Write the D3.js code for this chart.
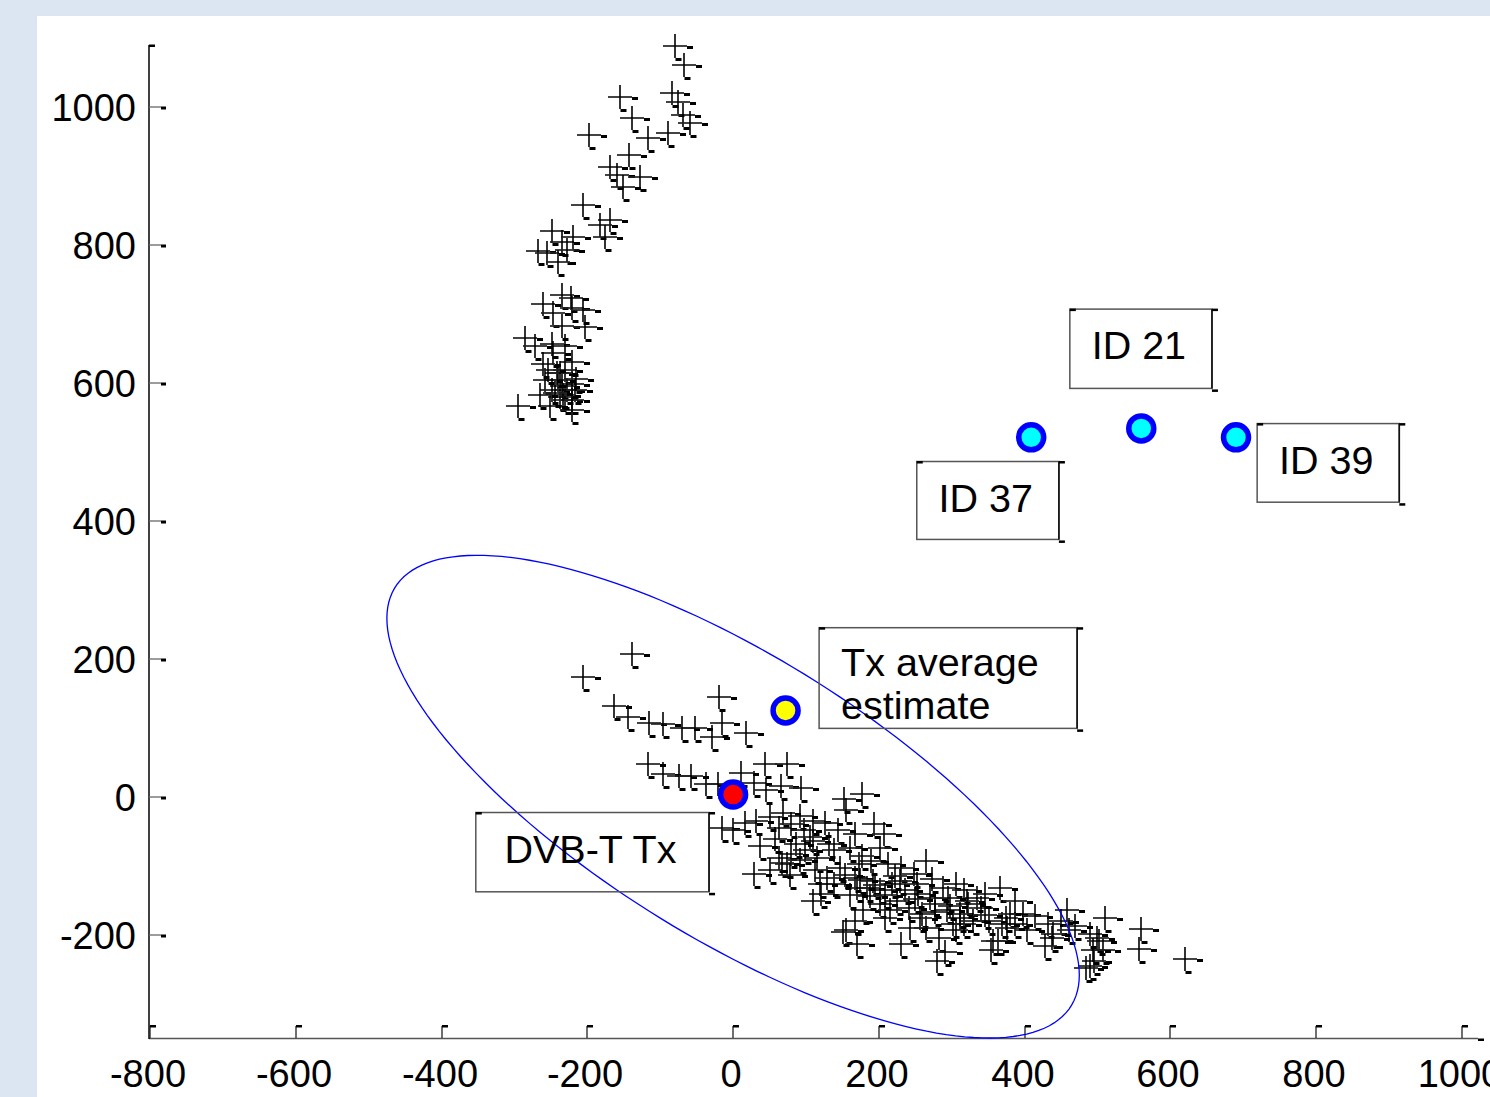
<!DOCTYPE html>
<html><head><meta charset="utf-8">
<script src="https://cdn.jsdelivr.net/npm/d3@7/dist/d3.min.js"></script>
<style>html,body{margin:0;padding:0;background:#dce6f2;overflow:hidden}</style>
</head><body>
<svg id="chart" width="1490" height="1097"></svg>
<script>
// ---------- data ----------
const xTicks = [-800, -600, -400, -200, 0, 200, 400, 600, 800, 1000];
const yTicks = [-200, 0, 200, 400, 600, 800, 1000];
const xDomain = [-800, 1022];
const yDomain = [-350, 1090];

// sensor position estimates, upper group
const upperCluster = [[-80,1088],[-67,1061],[-84,1020],[-75,1007],[-69,988],[-59,977],[-89,963],[-155,1014],[-139,984],[-117,955],
[-198,959],[-143,930],[-169,913],[-159,901],[-128,898],[-151,884],[-206,858],[-169,836],[-182,829],[-176,811],
[-248,820],[-235,804],[-220,811],[-268,791],[-255,789],[-228,792],[-240,775],[-235,727],[-222,723],[-261,715],
[-247,702],[-221,708],[-206,705],[-235,683],[-203,681],[-285,665],[-272,654],[-248,657],[-230,654],[-247,643],
[-221,630],[-261,628],[-241,614],[-230,618],[-240,604],[-258,604],[-235,596],[-221,599],[-248,589],[-228,589],
[-217,589],[-237,579],[-230,575],[-221,575],[-295,567],[-251,567],[-221,560],[-233,582],[-244,586],[-237,615],
[-254,618],[-215,606],[-265,582]];

// sensor position estimates, lower group
const lowerCluster = [[-139,207],[-206,174],[-163,132],[-144,116],[-115,107],[-96,106],[-70,100],[-52,99],[-29,86],[-15,107],
[-19,144],[18,93],[-117,48],[-96,33],[-74,30],[-58,30],[-37,19],[-21,19],[11,35],[44,48],[74,48],[29,20],[45,9],[66,16],
[93,13],[152,-3],[177,4],[-15,-45],[0,-49],[16,-38],[32,-35],[51,-30],[69,-23],[92,-28],[63,-45],[80,-39],[97,-49],
[110,-35],[126,-38],[144,-49],[167,-54],[193,-39],[207,-54],[155,-20],[110,-64],[132,-68],[86,-68],[63,-89],[80,-83],
[29,-112],[51,-107],[74,-97],[115,-89],[139,-78],[161,-74],[173,-97],[189,-93],[202,-74],[213,-97],[230,-103],[265,-93],
[248,-112],[139,-126],[121,-141],[110,-151],[167,-118],[184,-132],[202,-136],[218,-126],[236,-136],[254,-141],[270,-147],
[288,-132],[306,-126],[317,-136],[335,-147],[366,-133],[178,-165],[167,-180],[155,-194],[202,-155],[225,-151],[241,-161],
[259,-170],[277,-155],[294,-165],[311,-176],[322,-155],[340,-161],[351,-180],[375,-176],[387,-184],[403,-194],[265,-190],
[283,-205],[306,-194],[317,-184],[230,-213],[280,-238],[369,-184],[364,-209],[354,-223],[432,-184],[438,-205],[458,-165],
[450,-180],[461,-194],[490,-199],[502,-209],[510,-176],[508,-223],[495,-238],[484,-248],[560,-192],[557,-221],[620,-235],
[398,-170],[106,-59],[119,-126],[129,-118],[170,-132],[192,-122],[229,-122],[252,-126],[321,-151],[380,-170],[439,-199],
[499,-205],[494,-223],[490,-245],[376,-190],[357,-209],[302,-184],[170,-213],[151,-197],[291,-226],[257,-176],[243,-190],
[209,-176],[311,-170],[329,-180],[67,-96],[37,-71],[58,-61],[99,-78],[147,-104],[177,-86],[222,-115],[273,-119],[295,-147],
[346,-141],[387,-151],[414,-173],[188,-144],[215,-165],[469,-187],[428,-216],
[154,-114],[174,-121],[195,-128],[161,-143],[209,-143],[250,-148],[277,-168],[298,-158],[346,-172],[92,-92],[113,-107],[78,-114]];

const sensorNames = ["ID 37", "ID 21", "ID 39"];
const sensorX = [409, 560, 690];
const sensorY = [521, 534, 521];
const txTrue = [0, 3];
const txEstimate = [72, 125];
const ellipseCenter = [0, 0];
const ellipseCov = [[225625, -122850], [-122850, 122500]];

// annotation boxes in data units: [xLeft, xRight, yBottom, yTop]
const annotations = [
  {lines: ["ID 21"], box: [462, 657, 592, 707], align: "middle"},
  {lines: ["ID 37"], box: [252, 447, 373, 486], align: "middle"},
  {lines: ["ID 39"], box: [719, 914, 427, 541], align: "middle"},
  {lines: ["Tx average", "estimate"], box: [118, 472, 99, 245], align: "start"},
  {lines: ["DVB-T Tx"], box: [-353, -33, -138, -23], align: "middle"}
];

// ---------- drawing ----------
const svg = d3.select("#chart");
const FONT = "'Liberation Sans', Arial, Helvetica, sans-serif";

svg.append("rect").attr("x", 0).attr("y", 0).attr("width", 1490).attr("height", 1097).attr("fill", "#dce6f2");
svg.append("rect").attr("x", 37).attr("y", 16).attr("width", 1453).attr("height", 1081).attr("fill", "#ffffff");

const x = d3.scaleLinear().domain(xDomain).range([150, 1478]);
const y = d3.scaleLinear().domain(yDomain).range([1038, 45]);

const g = svg.append("g");

// axes lines
g.append("line").attr("x1", 149).attr("x2", x(xDomain[1])).attr("y1", y(yDomain[0]) + 0.5).attr("y2", y(yDomain[0]) + 0.5)
  .attr("stroke", "#555").attr("stroke-width", 1.6);
g.append("line").attr("x1", 149).attr("x2", 149).attr("y1", y(yDomain[1])).attr("y2", y(yDomain[0]) + 1)
  .attr("stroke", "#000").attr("stroke-width", 1.5);
g.append("rect").attr("x", 149).attr("y", y(yDomain[1]) - 0.5).attr("width", 6).attr("height", 2.5).attr("fill", "#000");
g.append("rect").attr("x", x(xDomain[1])).attr("y", y(yDomain[0]) + 0.5).attr("width", 6).attr("height", 2.5).attr("fill", "#000");

// y ticks
yTicks.forEach(v => {
  const py = Math.round(y(v));
  g.append("line").attr("x1", 149).attr("x2", 161).attr("y1", py).attr("y2", py).attr("stroke", "#666").attr("stroke-width", 1.3);
  g.append("rect").attr("x", 161).attr("y", py - 0.5).attr("width", 5).attr("height", 3).attr("fill", "#000");
  g.append("text").attr("x", 136).attr("y", py + 14).attr("text-anchor", "end")
    .attr("font-family", FONT).attr("font-size", 38).attr("fill", "#000").text(v);
});
// x ticks
xTicks.forEach(v => {
  const px = Math.round(x(v));
  g.append("line").attr("x1", px).attr("x2", px).attr("y1", 1038).attr("y2", 1026).attr("stroke", "#222").attr("stroke-width", 1.3);
  g.append("rect").attr("x", px).attr("y", 1025).attr("width", 6).attr("height", 2.5).attr("fill", "#000");
  g.append("text").attr("x", px - 2).attr("y", 1087).attr("text-anchor", "middle")
    .attr("font-family", FONT).attr("font-size", 38).attr("fill", "#000").text(v);
});

// cross markers
function drawCrosses(data) {
  const m = g.append("g");
  data.forEach(([dx, dy]) => {
    const cx = Math.round(x(dx)), cy = Math.round(y(dy));
    m.append("line").attr("x1", cx - 12).attr("x2", cx + 12).attr("y1", cy).attr("y2", cy)
      .attr("stroke", "#222").attr("stroke-width", 1.7);
    m.append("line").attr("x1", cx).attr("x2", cx).attr("y1", cy - 12).attr("y2", cy + 12)
      .attr("stroke", "#000").attr("stroke-width", 1.6);
    m.append("rect").attr("x", cx + 12).attr("y", cy).attr("width", 6).attr("height", 3).attr("fill", "#000");
    m.append("rect").attr("x", cx + 0.5).attr("y", cy + 12).attr("width", 6).attr("height", 3).attr("fill", "#000");
  });
}
drawCrosses(upperCluster);
drawCrosses(lowerCluster);

// error ellipse from covariance
const L11 = Math.sqrt(ellipseCov[0][0]);
const L21 = ellipseCov[1][0] / L11;
const L22 = Math.sqrt(ellipseCov[1][1] - L21 * L21);
const ts = d3.range(0, 361, 2).map(d => d * Math.PI / 180);
const ellPts = ts.map(t => [ellipseCenter[0] + L11 * Math.cos(t), ellipseCenter[1] + L21 * Math.cos(t) + L22 * Math.sin(t)]);
g.append("path").datum(ellPts)
  .attr("d", d3.line().x(d => x(d[0])).y(d => y(d[1])))
  .attr("fill", "none").attr("stroke", "#0000ff").attr("stroke-width", 1.3);

// circles
function circ(dx, dy, fill) {
  g.append("circle").attr("cx", x(dx)).attr("cy", y(dy)).attr("r", 12.5)
    .attr("fill", fill).attr("stroke", "#0000ff").attr("stroke-width", 5.5);
}
sensorX.forEach((sx, i) => circ(sx, sensorY[i], "#00ffff"));
circ(txEstimate[0], txEstimate[1], "#ffff00");
circ(txTrue[0], txTrue[1], "#ff0000");

// annotations
annotations.forEach(a => {
  const x0 = x(a.box[0]), x1 = x(a.box[1]), y0 = y(a.box[3]), y1 = y(a.box[2]);
  const ag = g.append("g");
  ag.append("rect").attr("x", x0).attr("y", y0).attr("width", x1 - x0).attr("height", y1 - y0)
    .attr("fill", "none").attr("stroke", "#555").attr("stroke-width", 1.5);
  ag.append("line").attr("x1", x1).attr("x2", x1).attr("y1", y0).attr("y2", y1).attr("stroke", "#111").attr("stroke-width", 1.6);
  ag.append("rect").attr("x", x0).attr("y", y0 - 0.5).attr("width", 6).attr("height", 2.5).attr("fill", "#000");
  ag.append("rect").attr("x", x1).attr("y", y0 - 0.5).attr("width", 6).attr("height", 2.5).attr("fill", "#000");
  ag.append("rect").attr("x", x1).attr("y", y1 + 1).attr("width", 6).attr("height", 2.5).attr("fill", "#000");
  const tx = a.align === "middle" ? (x0 + x1) / 2 - 2 : x0 + 22;
  a.lines.forEach((ln, i) => {
    ag.append("text").attr("x", tx).attr("y", y0 + (a.lines.length > 1 ? 48 : 50) + i * 43)
      .attr("text-anchor", a.align).attr("font-family", FONT).attr("font-size", 39.5).attr("fill", "#000").text(ln);
  });
});
</script>
</body></html>
